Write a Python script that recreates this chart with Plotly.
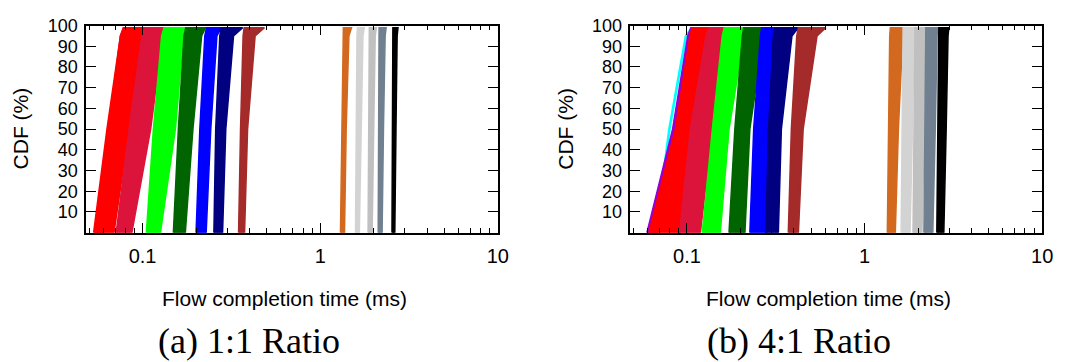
import plotly.graph_objects as go

# CDF levels (%) at which each group's band edges are read
CDF_LEVELS = [0, 50, 95, 99]

GROUPS = ["cyan", "purple", "red", "crimson", "lime", "darkgreen", "blue",
          "navy", "brown", "chocolate", "lightgray", "silver", "slategray", "black"]
GROUP_COLORS = ["#00ffff", "#9400d3", "#ff0000", "#dc143c", "#00ff00", "#006400",
                "#0000ff", "#000080", "#a52a2a", "#d2691e", "#d3d3d3", "#c0c0c0",
                "#708090", "#000000"]

# (a) 1:1 ratio: left / right edge of each band of CDF curves (ms)
A_LEFT = {
    "cyan":      [0.054, 0.064, 0.076, 0.079],
    "purple":    [0.054, 0.064, 0.075, 0.078],
    "red":       [0.053, 0.063, 0.075, 0.078],
    "crimson":   [0.071, 0.084, 0.099, 0.103],
    "lime":      [0.105, 0.115, 0.128, 0.132],
    "darkgreen": [0.149, 0.159, 0.171, 0.175],
    "blue":      [0.200, 0.210, 0.224, 0.229],
    "navy":      [0.252, 0.258, 0.272, 0.277],
    "brown":     [0.347, 0.356, 0.368, 0.373],
    "chocolate": [1.30, 1.32, 1.34, 1.35],
    "lightgray": [1.58, 1.59, 1.61, 1.62],
    "silver":    [1.86, 1.87, 1.885, 1.89],
    "slategray": [2.12, 2.13, 2.14, 2.145],
    "black":     [2.535, 2.545, 2.56, 2.565],
}
A_RIGHT = {
    "cyan":      [0.055, 0.065, 0.077, 0.080],
    "purple":    [0.060, 0.071, 0.085, 0.090],
    "red":       [0.069, 0.084, 0.100, 0.106],
    "crimson":   [0.087, 0.111, 0.130, 0.136],
    "lime":      [0.126, 0.153, 0.170, 0.178],
    "darkgreen": [0.174, 0.192, 0.215, 0.226],
    "blue":      [0.228, 0.242, 0.262, 0.277],
    "navy":      [0.282, 0.294, 0.325, 0.366],
    "brown":     [0.375, 0.390, 0.430, 0.485],
    "chocolate": [1.37, 1.40, 1.45, 1.50],
    "lightgray": [1.66, 1.70, 1.74, 1.77],
    "silver":    [1.96, 2.00, 2.04, 2.07],
    "slategray": [2.23, 2.27, 2.32, 2.35],
    "black":     [2.63, 2.67, 2.71, 2.74],
}

# (b) 4:1 ratio
B_LEFT = {
    "cyan":      [0.0665, 0.0790, 0.098, 0.106],
    "purple":    [0.0595, 0.083, 0.101, 0.105],
    "red":       [0.061, 0.086, 0.104, 0.107],
    "crimson":   [0.091, 0.1045, 0.128, 0.133],
    "lime":      [0.122, 0.139, 0.158, 0.162],
    "darkgreen": [0.1725, 0.186, 0.205, 0.209],
    "blue":      [0.226, 0.2375, 0.259, 0.264],
    "navy":      [0.2775, 0.288, 0.306, 0.311],
    "brown":     [0.372, 0.387, 0.415, 0.424],
    "chocolate": [1.343, 1.36, 1.385, 1.396],
    "lightgray": [1.606, 1.625, 1.642, 1.648],
    "silver":    [1.874, 1.895, 1.915, 1.922],
    "slategray": [2.158, 2.185, 2.205, 2.212],
    "black":     [2.551, 2.585, 2.61, 2.618],
}
B_RIGHT = {
    "cyan":      [0.0675, 0.0802, 0.0995, 0.1075],
    "purple":    [0.068, 0.090, 0.108, 0.112],
    "red":       [0.091, 0.119, 0.145, 0.152],
    "crimson":   [0.119, 0.139, 0.175, 0.186],
    "lime":      [0.154, 0.1725, 0.210, 0.223],
    "darkgreen": [0.212, 0.226, 0.270, 0.288],
    "blue":      [0.281, 0.292, 0.330, 0.349],
    "navy":      [0.327, 0.340, 0.390, 0.424],
    "brown":     [0.424, 0.451, 0.540, 0.605],
    "chocolate": [1.489, 1.55, 1.64, 1.69],
    "lightgray": [1.803, 1.86, 1.90, 1.922],
    "silver":    [2.103, 2.17, 2.22, 2.243],
    "slategray": [2.421, 2.50, 2.56, 2.582],
    "black":     [2.793, 2.88, 2.95, 2.98],
}

X_TICKS = [0.1, 1, 10]
X_TICK_TEXT = ["0.1", "1", "10"]
X_MINOR = [0.05, 0.06, 0.07, 0.08, 0.09, 0.2, 0.3, 0.4, 0.5, 0.6, 0.7, 0.8, 0.9,
           2, 3, 4, 5, 6, 7, 8, 9]
Y_TICKS = [10, 20, 30, 40, 50, 60, 70, 80, 90, 100]
CAPTIONS = ["(a) 1:1 Ratio", "(b) 4:1 Ratio"]

fig = go.Figure()

for left, right, xa, ya in [(A_LEFT, A_RIGHT, "x", "y"), (B_LEFT, B_RIGHT, "x2", "y2")]:
    for name, color in zip(GROUPS, GROUP_COLORS):
        lx = left[name]
        rx = right[name]
        xs = lx + rx[::-1] + [lx[0]]
        ys = CDF_LEVELS + CDF_LEVELS[::-1] + [CDF_LEVELS[0]]
        fig.add_trace(go.Scatter(
            x=xs, y=ys, mode="lines", fill="toself", fillcolor=color,
            line=dict(color=color, width=1.5), xaxis=xa, yaxis=ya,
            showlegend=False, hoverinfo="skip"))

SANS = "Liberation Sans"
FS = 21
axis_common = dict(
    showline=True, linecolor="black", linewidth=1.5, mirror="allticks",
    ticks="inside", tickcolor="black", tickwidth=1.2, showgrid=False,
    zeroline=False,
)
x_common = dict(axis_common, type="log", range=[-1.318, 1.0],
                tickfont=dict(family=SANS, size=20, color="black"),
                tickmode="array", tickvals=X_TICKS, ticktext=X_TICK_TEXT, ticklen=10,
                ticklabelstandoff=5,
                minor=dict(ticks="inside", ticklen=5, tickcolor="black", tickwidth=1,
                           tickmode="array", tickvals=X_MINOR, showgrid=False))
y_common = dict(axis_common, range=[0, 100], tickmode="array", tickvals=Y_TICKS,
                tickfont=dict(family=SANS, size=18, color="black"),
                ticklen=10, ticklabelstandoff=3)

W, H = 1073, 362
dom_y = [1 - 229 / H, 1 - 16 / H]
fig.update_layout(
    width=W, height=H, margin=dict(l=0, r=0, t=0, b=0),
    paper_bgcolor="white", plot_bgcolor="white",
    xaxis=dict(x_common, domain=[87 / W, 503 / W], anchor="y"),
    yaxis=dict(y_common, domain=dom_y, anchor="x"),
    xaxis2=dict(x_common, domain=[637 / W, 1053 / W], anchor="y2"),
    yaxis2=dict(y_common, domain=dom_y, anchor="x2"),
)

annos = []
for cx_title, cx_ylab, cx_cap, cap in [(287, 21, 252, CAPTIONS[0]), (837, 571, 807, CAPTIONS[1])]:
    annos.append(dict(x=cx_title / W, y=1 - 297 / H, xref="paper", yref="paper",
                      text="Flow completion time (ms)", showarrow=False,
                      xanchor="center", yanchor="middle",
                      font=dict(family=SANS, size=FS, color="black")))
    annos.append(dict(x=cx_ylab / W, y=1 - 122 / H, xref="paper", yref="paper",
                      text="CDF (%)", showarrow=False, textangle=-90,
                      xanchor="center", yanchor="middle",
                      font=dict(family=SANS, size=FS, color="black")))
    annos.append(dict(x=cx_cap / W, y=1 - 340 / H, xref="paper", yref="paper",
                      text=cap, showarrow=False, xanchor="center", yanchor="middle",
                      font=dict(family="Liberation Serif", size=36, color="black")))
fig.update_layout(annotations=annos)

fig.write_html("out.html")
